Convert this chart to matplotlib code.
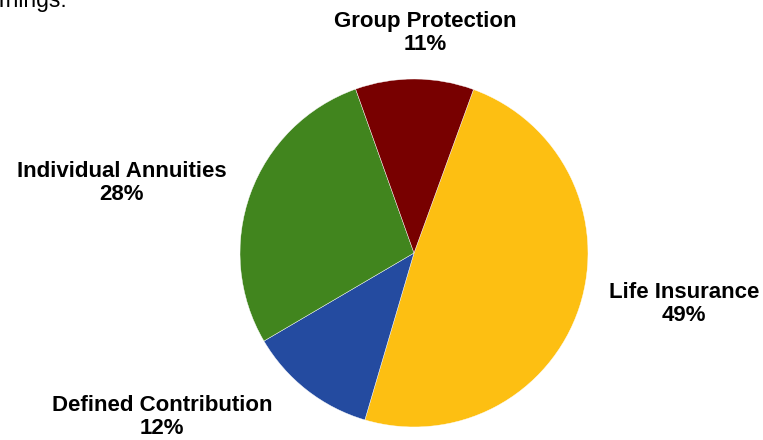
import matplotlib
matplotlib.use('Agg')
import matplotlib.pyplot as plt

plt.rcParams['font.family'] = ['Liberation Sans', 'DejaVu Sans']

# Segment shares (%), clockwise from the top-right
segments = ['Life Insurance', 'Defined Contribution', 'Individual Annuities', 'Group Protection']
shares = [49, 12, 28, 11]
colors = ['#FDBF12', '#244BA0', '#41851E', '#780000']

# Label positions in pixels (x, y from top)
label_pos = {
    'Life Insurance': (684, 304),
    'Defined Contribution': (162, 417),
    'Individual Annuities': (122, 183),
    'Group Protection': (425, 33),
}

W, H = 763, 440
fig = plt.figure(figsize=(W / 100, H / 100), dpi=100)
ax = fig.add_axes([0, 0, 1, 1])

ax.pie(shares, colors=colors, startangle=70, counterclock=False,
       center=(414, H - 253), radius=174, frame=True,
       wedgeprops={'linewidth': 0.3, 'edgecolor': 'white'})
ax.set_xlim(0, W)
ax.set_ylim(0, H)
ax.set_aspect('auto')
ax.axis('off')

for name, val in zip(segments, shares):
    x, y = label_pos[name]
    ax.text(x, H - y, f"{name}\n{val}%", ha='center', va='center',
            multialignment='center', fontsize=16, fontweight='bold',
            linespacing=1.18, color='black')

# cut-off text from the slide above
fig.text(-1 / W, 1 - 7 / H, 'rnings:', ha='left', va='baseline', fontsize=16.5)

fig.savefig('out.png', dpi=100, facecolor='white')
